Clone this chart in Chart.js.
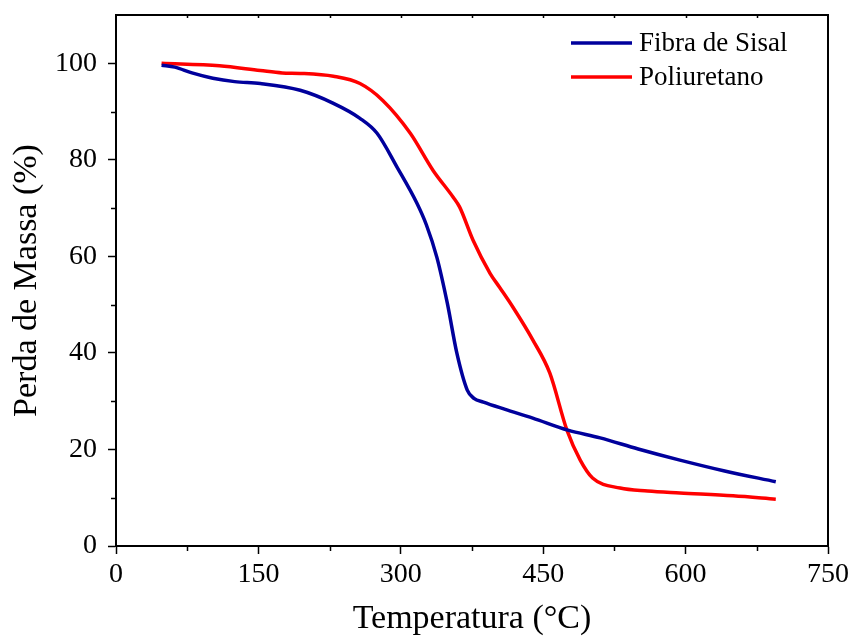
<!DOCTYPE html>
<html>
<head>
<meta charset="utf-8">
<script src="https://cdn.jsdelivr.net/npm/chart.js@4.4.0/dist/chart.umd.min.js"></script>
<style>
html,body{margin:0;padding:0;background:#fff;}
#wrap{width:853px;height:639px;position:relative;}
</style>
</head>
<body>
<div id="wrap"><canvas id="c" width="853" height="639"></canvas></div>
<script>
const seriesNames = ['Fibra de Sisal', 'Poliuretano'];
const sisalTemp = [48, 62, 80, 102, 125, 152, 194, 229, 257, 275, 296, 317, 327, 338, 349, 359, 370, 377, 387, 410, 439, 476, 510, 550, 594, 640, 695];
const sisalMass = [99.6, 99.2, 98.0, 96.9, 96.2, 95.8, 94.4, 91.7, 88.6, 85.5, 78.5, 71.0, 66.5, 59.8, 50.3, 40.0, 32.3, 30.6, 29.8, 28.3, 26.5, 24.0, 22.4, 20.1, 17.8, 15.6, 13.3];
const puTemp = [48, 109, 152, 175, 194, 229, 257, 281, 310, 334, 355, 362, 376, 394, 404, 418, 439, 457, 475, 489, 502, 531, 560, 594, 650, 695];
const puMass = [100, 99.5, 98.5, 98.0, 97.9, 97.3, 95.8, 92.3, 85.5, 77.8, 72.3, 70.2, 63.4, 56.5, 53.6, 49.5, 42.7, 35.8, 24.0, 17.8, 14.1, 12.0, 11.4, 11.0, 10.4, 9.7];
const xTicks = [0, 150, 300, 450, 600, 750];
const yTicks = [0, 20, 40, 60, 80, 100];
const xTitle = 'Temperatura (°C)';
const yTitle = 'Perda de Massa (%)';

const FONT = "'Liberation Serif', 'Times New Roman', serif";

function pts(xs, ys){ return xs.map((x,i)=>({x:x, y:ys[i]})); }

const frame = {
  id:'frame',
  afterDraw(chart){
    const {ctx, chartArea:a, scales} = chart;
    ctx.save();
    ctx.strokeStyle = '#000';
    ctx.lineWidth = 2;
    ctx.beginPath();
    ctx.moveTo(a.left, a.top); ctx.lineTo(a.right, a.top); ctx.lineTo(a.right, a.bottom);
    ctx.stroke();
    // minor ticks
    ctx.lineWidth = 1.5;
    const xs = scales.x, ys = scales.y;
    for (let v = xs.min + 75; v < xs.max; v += 150) {
      const px = Math.round(xs.getPixelForValue(v)) + 0.5;
      ctx.beginPath(); ctx.moveTo(px, a.bottom); ctx.lineTo(px, a.bottom + 5); ctx.stroke();
      ctx.beginPath(); ctx.moveTo(px, a.top); ctx.lineTo(px, a.top + 3); ctx.stroke();
    }
    for (let v = 150; v < xs.max; v += 150) {
      const px = Math.round(xs.getPixelForValue(v)) + 0.5;
      ctx.beginPath(); ctx.moveTo(px, a.top); ctx.lineTo(px, a.top + 3); ctx.stroke();
    }
    for (let v = 10; v < ys.max; v += 20) {
      const py = Math.round(ys.getPixelForValue(v)) + 0.5;
      ctx.beginPath(); ctx.moveTo(a.left, py); ctx.lineTo(a.left - 5, py); ctx.stroke();
    }
    // legend
    ctx.font = "27px " + FONT;
    ctx.textBaseline = 'middle';
    ctx.fillStyle = '#000';
    chart.data.datasets.forEach((ds, i) => {
      const y = 43 + i * 34;
      ctx.strokeStyle = ds.borderColor;
      ctx.lineWidth = 3.5;
      ctx.beginPath(); ctx.moveTo(571, y); ctx.lineTo(632, y); ctx.stroke();
      ctx.fillText(ds.label, 639, y + 1);
    });
    ctx.restore();
  }
};

new Chart(document.getElementById('c'), {
  type: 'line',
  data: {
    datasets: [
      { label: seriesNames[0], data: pts(sisalTemp, sisalMass), borderColor: '#00009c', borderWidth: 3.5, pointRadius: 0, cubicInterpolationMode: 'monotone', fill: false },
      { label: seriesNames[1], data: pts(puTemp, puMass), borderColor: '#ff0000', borderWidth: 3.5, pointRadius: 0, cubicInterpolationMode: 'monotone', fill: false }
    ]
  },
  options: {
    responsive: false,
    animation: false,
    devicePixelRatio: 1,
    layout: { padding: { top: 15, right: 25, left: 0, bottom: 0 } },
    plugins: { legend: { display: false }, tooltip: { enabled: false } },
    scales: {
      x: {
        type: 'linear', min: 0, max: 750,
        afterBuildTicks(s){ s.ticks = xTicks.map(v=>({value:v})); },
        afterFit(s){ s.height = 93; s.paddingLeft = 0; s.paddingRight = 0; },
        grid: { drawOnChartArea: false, tickLength: 8, tickWidth: 1.5, tickColor: '#000' },
        border: { color: '#000', width: 2 },
        ticks: { color: '#000', font: { family: FONT, size: 28 }, padding: 4, maxRotation: 0 },
        title: { display: true, text: xTitle, color: '#000', font: { family: FONT, size: 34 }, padding: { top: 0, bottom: 0 } }
      },
      y: {
        type: 'linear', min: 0, max: 110,
        afterBuildTicks(s){ s.ticks = yTicks.map(v=>({value:v})); },
        afterFit(s){ s.width = 116; s.paddingTop = 0; s.paddingBottom = 0; },
        grid: { drawOnChartArea: false, tickLength: 8, tickWidth: 1.5, tickColor: '#000' },
        border: { color: '#000', width: 2 },
        ticks: { color: '#000', font: { family: FONT, size: 28 }, padding: 11 },
        title: { display: true, text: yTitle, color: '#000', font: { family: FONT, size: 34 }, padding: { top: 7, bottom: 0 } }
      }
    }
  },
  plugins: [frame]
});
</script>
</body>
</html>
